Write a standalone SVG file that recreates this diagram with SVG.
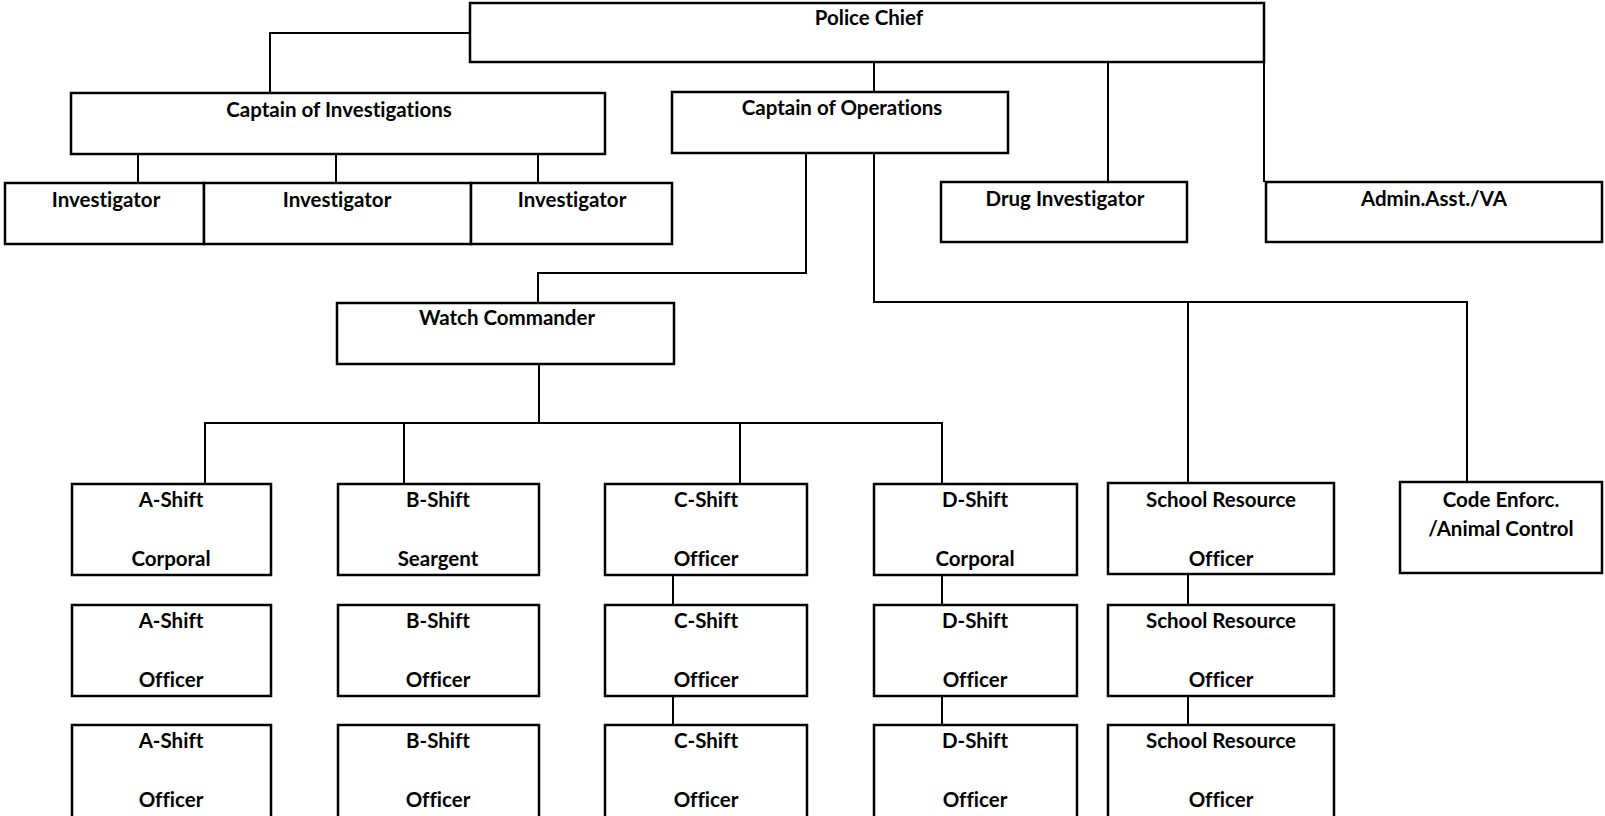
<svg xmlns="http://www.w3.org/2000/svg" width="1605" height="816" viewBox="0 0 1605 816">
<style>
.b{fill:#fff;stroke:#000;stroke-width:2.5}
.c{fill:none;stroke:#000;stroke-width:2}
text{font-family:Lato,"Liberation Sans",sans-serif;font-weight:700;font-size:20.5px;text-anchor:middle;fill:#000;font-variant-ligatures:none;font-feature-settings:"liga" 0}
</style>
<rect width="1605" height="816" fill="#fff"/>
<g id="connectors">
<path class="c" d="M470 33H270V93"/>
<path class="c" d="M874 62V92"/>
<path class="c" d="M1108 62V182"/>
<path class="c" d="M1264 62V182"/>
<path class="c" d="M138 154V183M336 154V183M538 154V183"/>
<path class="c" d="M806 153V273H538V303"/>
<path class="c" d="M874 153V302H1467V482M1188 302V482"/>
<path class="c" d="M539 364V423M205 484V423H942V484M404 423V484M740 423V484"/>
<path class="c" d="M673 575V605M673 696V725"/>
<path class="c" d="M942 575V605M942 696V725"/>
<path class="c" d="M1188 575V605M1188 696V725"/>
</g>
<g id="police-chief"><rect class="b" x="470" y="3" width="794" height="59"/><text x="869" y="25">Police Chief</text></g>
<g id="captain-investigations"><rect class="b" x="71" y="93" width="534" height="61"/><text x="339" y="117">Captain of Investigations</text></g>
<g id="captain-operations"><rect class="b" x="672" y="92" width="336" height="61"/><text x="842" y="115">Captain of Operations</text></g>
<g id="investigator-1"><rect class="b" x="5" y="183" width="199" height="61"/><text x="106" y="207">Investigator</text></g>
<g id="investigator-2"><rect class="b" x="204" y="183" width="267" height="61"/><text x="337" y="207">Investigator</text></g>
<g id="investigator-3"><rect class="b" x="471" y="183" width="201" height="61"/><text x="572" y="207">Investigator</text></g>
<g id="drug-investigator"><rect class="b" x="941" y="182" width="246" height="60"/><text x="1065" y="206">Drug Investigator</text></g>
<g id="admin-asst"><rect class="b" x="1266" y="182" width="336" height="60"/><text x="1434" y="206">Admin.Asst./VA</text></g>
<g id="watch-commander"><rect class="b" x="337" y="303" width="337" height="61"/><text x="507" y="325">Watch Commander</text></g>

<g id="a-shift-corporal"><rect class="b" x="72" y="484" width="199" height="91"/><text x="171" y="507">A-Shift</text><text x="171" y="566">Corporal</text></g>
<g id="b-shift-seargent"><rect class="b" x="338" y="484" width="201" height="91"/><text x="438" y="507">B-Shift</text><text x="438" y="566">Seargent</text></g>
<g id="c-shift-officer-1"><rect class="b" x="605" y="484" width="202" height="91"/><text x="706" y="507">C-Shift</text><text x="706" y="566">Officer</text></g>
<g id="d-shift-corporal"><rect class="b" x="874" y="484" width="203" height="91"/><text x="975" y="507">D-Shift</text><text x="975" y="566">Corporal</text></g>
<g id="sro-1"><rect class="b" x="1108" y="483" width="226" height="91"/><text x="1221" y="507">School Resource</text><text x="1221" y="566">Officer</text></g>
<g id="code-enforcement"><rect class="b" x="1400" y="482" width="202" height="91"/><text x="1501" y="507">Code Enforc.</text><text x="1501" y="536">/Animal Control</text></g>

<g id="a-shift-officer-1"><rect class="b" x="72" y="605" width="199" height="91"/><text x="171" y="628">A-Shift</text><text x="171" y="687">Officer</text></g>
<g id="b-shift-officer-1"><rect class="b" x="338" y="605" width="201" height="91"/><text x="438" y="628">B-Shift</text><text x="438" y="687">Officer</text></g>
<g id="c-shift-officer-2"><rect class="b" x="605" y="605" width="202" height="91"/><text x="706" y="628">C-Shift</text><text x="706" y="687">Officer</text></g>
<g id="d-shift-officer-1"><rect class="b" x="874" y="605" width="203" height="91"/><text x="975" y="628">D-Shift</text><text x="975" y="687">Officer</text></g>
<g id="sro-2"><rect class="b" x="1108" y="605" width="226" height="91"/><text x="1221" y="628">School Resource</text><text x="1221" y="687">Officer</text></g>

<g id="a-shift-officer-2"><rect class="b" x="72" y="725" width="199" height="95"/><text x="171" y="748">A-Shift</text><text x="171" y="807">Officer</text></g>
<g id="b-shift-officer-2"><rect class="b" x="338" y="725" width="201" height="95"/><text x="438" y="748">B-Shift</text><text x="438" y="807">Officer</text></g>
<g id="c-shift-officer-3"><rect class="b" x="605" y="725" width="202" height="95"/><text x="706" y="748">C-Shift</text><text x="706" y="807">Officer</text></g>
<g id="d-shift-officer-2"><rect class="b" x="874" y="725" width="203" height="95"/><text x="975" y="748">D-Shift</text><text x="975" y="807">Officer</text></g>
<g id="sro-3"><rect class="b" x="1108" y="725" width="226" height="95"/><text x="1221" y="748">School Resource</text><text x="1221" y="807">Officer</text></g>
</svg>
